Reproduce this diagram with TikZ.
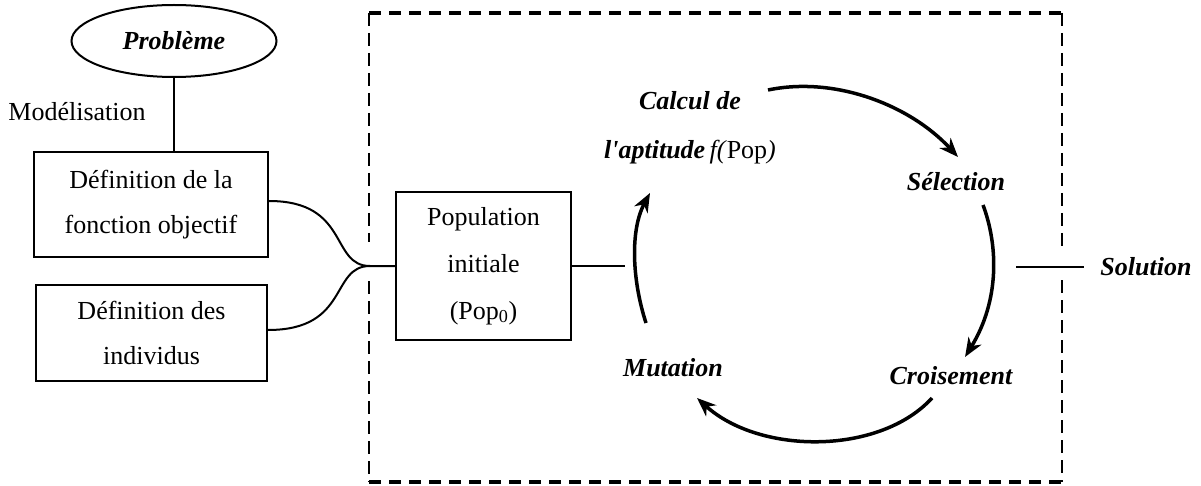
\documentclass[tikz,border=0pt]{standalone}
\usepackage{fontspec}
\setmainfont{Liberation Serif}
\usetikzlibrary{shapes.geometric,arrows.meta}
\tikzset{
  txt/.style={font=\fontsize{26}{45}\selectfont, align=center, inner sep=0pt},
  boxA/.style={draw, line width=2pt, inner sep=0pt, font=\fontsize{26}{45}\selectfont, align=center},
  thin/.style={line width=2pt},
  cyc/.style={line width=3.5pt, -{Stealth[length=19pt,width=15pt,inset=6pt]}},
  frameH/.style={line width=3.5pt, dash pattern=on 12pt off 8pt},
  frameV/.style={line width=2pt, dash pattern=on 13pt off 7pt}
}
\begin{document}
\begin{tikzpicture}[x=1pt,y=-1pt]
\useasboundingbox (0,0) rectangle (1201,486);
% frame
\draw[frameH] (369,13) -- (1062,13);
\draw[frameH] (369,482) -- (1062,482);
\draw[frameV] (369,13) -- (369,242);
\draw[frameV] (369,281) -- (369,482);
\draw[frameV] (1062,13) -- (1062,249);
\draw[frameV] (1062,280) -- (1062,482);
% left part
\node[draw, ellipse, thin, minimum width=205pt, minimum height=72pt, inner sep=0pt, font=\fontsize{26}{30}\selectfont\bfseries\itshape] (prob) at (174,41) {Problème};
\node[txt] (model) at (77,112) {Modélisation};
\node[boxA, minimum width=234pt, minimum height=105pt] (box1) at (151,204.5) {Définition de la\\fonction objectif};
\node[boxA, minimum width=231pt, minimum height=96pt] (box2) at (151.5,333) {Définition des\\individus};
\node[boxA, minimum width=175pt, minimum height=148pt, font=\fontsize{26}{47}\selectfont] (pop) at (483.5,266) {Population\\initiale\\(Pop\textsubscript{0})};
\coordinate (junc) at (370,266);
\draw[thin] (prob.south) -- (prob.south |- box1.north);
\draw[thin] ([yshift=3.5pt]box1.east) .. controls (350,201) and (330,266) .. (junc) -- (pop.west);
\draw[thin] ([yshift=3pt]box2.east) .. controls (350,330) and (330,266) .. (junc);
% cycle
\coordinate (cycL) at (625,266);
\draw[thin] (pop.east) -- (cycL);
\node[txt, font=\fontsize{26}{49}\selectfont] (calc) at (690,127.5) {\textbf{\textit{Calcul de}}\\\textbf{\textit{l\textquotesingle aptitude}}\,\textit{f(}Pop\textit{)}};
\node[txt, font=\fontsize{26}{30}\selectfont\bfseries\itshape] (sel) at (956,182) {Sélection};
\node[txt, font=\fontsize{26}{30}\selectfont\bfseries\itshape] (cro) at (951,376) {Croisement};
\node[txt, font=\fontsize{26}{30}\selectfont\bfseries\itshape] (mut) at (673,368) {Mutation};
\node[txt, font=\fontsize{26}{30}\selectfont\bfseries\itshape] (sol) at (1146,267) {Solution};
\coordinate (a1s) at (768,90);
\coordinate (a1e) at (958,157);
\coordinate (a2s) at (983,205);
\coordinate (a2e) at (965,357);
\coordinate (a3s) at (932,398);
\coordinate (a3e) at (697,398);
\coordinate (a4s) at (646,323);
\coordinate (a4e) at (650,193);
\draw[cyc] (a1s) .. controls (835,76) and (910,105) .. (a1e);
\draw[cyc] (a2s) .. controls (998,245) and (1000,300) .. (a2e);
\draw[cyc] (a3s) .. controls (880,455) and (760,455) .. (a3e);
\draw[cyc] (a4s) .. controls (632,280) and (630,230) .. (a4e);
% solution line
\coordinate (solA) at (1016,267);
\coordinate (solB) at (1084,267);
\draw[thin] (solA) -- (solB);
\end{tikzpicture}
\end{document}
